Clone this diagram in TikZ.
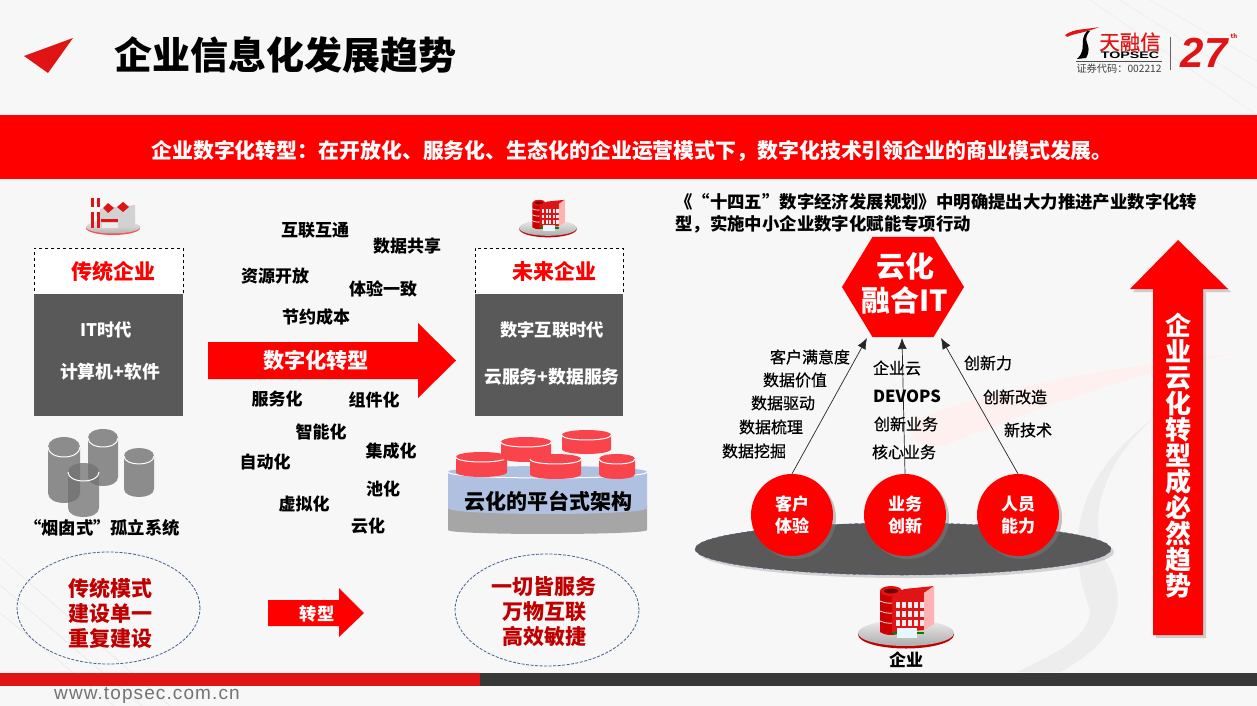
\documentclass[tikz,border=0pt]{standalone}
\usepackage{fontspec}
\setmainfont{Noto Sans CJK SC}
\newfontfamily\medfont{Noto Sans CJK SC}[FakeBold=0.6]
\newfontfamily\logofont{Liberation Sans}
\newfontfamily\webfont{Liberation Sans}[LetterSpace=5.8]
\usepackage{tikz}
\usetikzlibrary{positioning,shapes.geometric,shadows,arrows.meta}
\definecolor{topred}{HTML}{FF0000}
\definecolor{darkred}{HTML}{C00000}
\definecolor{logored}{HTML}{E01414}
\definecolor{boxgray}{HTML}{595959}
\definecolor{dashblue}{HTML}{44618F}
\definecolor{drumgray}{HTML}{8C8C8C}
\definecolor{drumred}{HTML}{F9444C}
\definecolor{drumblue}{HTML}{AFC0E0}
\newcommand{\fsz}[1]{\fontsize{#1}{#1}\selectfont}
\newcommand{\drum}[6]{% x, top y, width, bottom y, lid depth, fill
  \path[#6] (#1,#2) -- (#1,#4) .. controls (#1,{#4+#5*1.33}) and ({#1+#3},{#4+#5*1.33}) .. ({#1+#3},#4)
    -- ({#1+#3},#2) .. controls ({#1+#3},{#2-#5*1.33}) and (#1,{#2-#5*1.33}) .. cycle;
  \draw[white,line width=1pt] (#1,#2) .. controls (#1,{#2+#5*1.33}) and ({#1+#3},{#2+#5*1.33}) .. ({#1+#3},#2);
}
\newcommand{\officeicon}[3]{% x, y, scale
  \begin{scope}[shift={(#1,#2)},scale=#3]
    \fill[red!75!black] (0,1.5) ellipse (48 and 14);
    \shade[top color=gray!15,bottom color=gray!65] (0,0) ellipse (48 and 13);
    \fill[red!80!black] (-26,-42) -- (-26,-1) .. controls (-20,3) and (-10,3) .. (-4,-1) -- (-4,-42) -- cycle;
    \fill[logored] (-15,-42) ellipse (11 and 5);
    \fill[red!45!black] (-15,-42) ellipse (7 and 2.5);
    \foreach \row in {-32,-22,-12}
      \draw[white!80!gray,line width=.8pt] (-26,\row) .. controls (-20,{\row+3}) and (-12,{\row+3}) .. (-6,\row);
    \fill[logored] (-14,-36) -- (-2,-44) -- (28,-47) -- (18,-40) -- (18,-3) -- (-14,0) -- cycle;
    \fill[white!70!red] (18,-40) -- (28,-47) -- (28,-9) -- (18,-3) -- cycle;
    \foreach \row in {-31,-22,-13}
      \foreach \col in {-10,-4,2,8,14}
        \fill[white!85!gray] (\col,\row) rectangle ++(3.6,5.5);
    \fill[green!50!black] (-14,-1) rectangle (18,1);
    \fill[white!90!cyan] (-9,-5) rectangle (11,5);
  \end{scope}
}
\begin{document}
\begin{tikzpicture}[x=1pt,y=-1pt,
  tag/.style={font=\bfseries\fsz{17}},
  thin tag/.style={font=\medfont\fsz{16}},
  title/.style={font=\bfseries\fsz{21},text=topred},
  dark box/.style={fill=boxgray,anchor=north west,inner sep=0pt},
  white tag/.style={font=\bfseries\fsz{17.3},text=white},
  wide tag/.style={font=\bfseries\fsz{17.8},text=white},
  motto/.style={font=\bfseries\fsz{21},text=darkred,align=center,text depth=0pt},
  ring/.style={draw=dashblue,dash pattern=on 3pt off 1.5pt,line width=.8pt,ellipse,inner sep=0pt},
  ball/.style={circle,fill=topred,minimum size=82,inner sep=0pt,align=center,
    font=\bfseries\fsz{17},text=white,drop shadow={opacity=.45,shadow xshift=3pt,shadow yshift=-3pt}},
  up arrow/.style={-{Latex[length=11pt,width=9pt]},line width=.7pt,black!85}]
\useasboundingbox (0,0) rectangle (1257,706);
% background
\fill[black!3] (0,0) rectangle (1257,706);
\foreach \d in {0,28,56}
  \draw[black!7,line width=1pt] (0,{557+\d}) -- ({170-\d},706);
\foreach \d in {0,30,60}
  \draw[black!6,line width=1pt] ({1090+\d},0) -- ({1257},{115-\d*.9});
\fill[red!6] (1238,353) .. controls (1130,365) and (1000,385) .. (915,420)
  .. controls (905,435) and (915,450) .. (945,445) .. controls (1010,420) and (1120,375) .. (1238,353);
\fill[black!7] (1155,417) .. controls (1085,470) and (1060,530) .. (1090,610)
  .. controls (1090,640) and (1050,655) .. (1018,672) -- (1060,672)
  .. controls (1120,640) and (1130,600) .. (1105,560) .. controls (1085,510) and (1110,455) .. (1155,417);
% header
\fill[logored] (24,56) -- (73,38) -- (48,73) -- cycle;
\node[font=\bfseries\fsz{38}] (pagetitle) at (285,55) {企业信息化发展趋势};
\fill[topred] (0,115) rectangle (1257,179);
\node[font=\bfseries\fsz{20.9},text=white] (banner) at (632,151) {企业数字化转型：在开放化、服务化、生态化的企业运营模式下，数字化技术引领企业的商业模式发展。};
% logo
\fill[logored] (1065,35) .. controls (1075,28) and (1085,30) .. (1099,27) .. controls (1085,33) and (1075,33) .. (1067,37) -- cycle;
\fill[black] (1090,31) .. controls (1080,42) and (1094,44) .. (1086,58) -- (1077,59) .. controls (1088,48) and (1078,42) .. (1087,31) -- cycle;
\node[font=\medfont\fsz{20.5},text=logored,inner sep=0pt] (logocn) at (1130,42) {天融信};
\node[font=\logofont\bfseries\fsz{9.5},text=black,inner sep=0pt,xscale=1.5,transform shape] (logoen) at (1130,55) {TOPSEC};
\draw[black!70,line width=.6pt] (1076,61) -- (1162,61);
\node[font=\fsz{10.2},text=black!75,inner sep=0pt] (logocode) at (1119,69) {证券代码：002212};
\draw[black!60,line width=.8pt] (1170,37) -- (1170,70);
\node[font=\logofont\bfseries\itshape\fsz{42},text=logored,inner sep=0pt] (logoyear) at (1204,53) {27};
\node[font=\bfseries\fsz{6},text=logored,inner sep=0pt] (logonote) at (1234,36) {th};
% left column
\fill[red!70] (113,228) ellipse (27 and 7);
\shade[top color=gray!15,bottom color=gray!60] (113,227) ellipse (27 and 6.5);
\fill[gray!35] (98,209) -- (135,205) -- (135,226) -- (98,229) -- cycle;
\fill[logored] (103,208) -- (108,203) -- (114,208) -- (108,213) -- cycle;
\fill[logored] (117,207) -- (123,202) -- (129,207) -- (123,212) -- cycle;
\fill[logored] (101,219) rectangle (118,222);
\fill[white!85!gray] (102,223) rectangle (118,228);
\fill[logored] (91,198) rectangle (93.5,228);
\fill[white] (91,207) rectangle (93.5,212);
\fill[logored] (97,198) rectangle (100,228);
\fill[white] (97,207) rectangle (100,212);
\node[draw,dashed,line width=.6pt,fill=white,minimum width=149,minimum height=46,inner sep=0pt,anchor=north west] (oldhead) at (34,248) {};
\node[dark box,minimum width=149,minimum height=122] (oldbox) at (34,294) {};
\node[title] (oldtitle) at (113,271) {传统企业};
\node[white tag] (oldera) at (106,330) {IT时代};
\node[wide tag] (oldit) at (110,372) {计算机+软件};
\drum{48}{447}{32}{493}{10}{fill=drumgray}
\drum{88}{438}{30}{477}{9}{fill=drumgray}
\drum{124}{456}{30}{489}{8}{fill=drumgray}
\drum{68}{472}{31}{508}{9}{fill=drumgray!80!black,fill opacity=.75}
\node[font=\bfseries\fsz{17.3}] (silo) at (102,528) {“烟囱式”孤立系统};
\node[ring,minimum width=183,minimum height=112] (oldring) at (108.5,608) {};
\node[motto] (oldmotto) at (110,612) {传统模式\\[4pt]建设单一\\[4pt]重复建设};
% middle words
\node[tag] (w1) at (315,230) {互联互通};
\node[tag] (w2) at (407,246) {数据共享};
\node[tag] (w3) at (275,276) {资源开放};
\node[tag] (w4) at (383,289) {体验一致};
\node[tag] (w5) at (316,317) {节约成本};
\fill[topred] (208,342) -- (418,342) -- (418,323) -- (456,360.5) -- (418,398) -- (418,379) -- (208,379) -- cycle;
\node[font=\bfseries\fsz{21.2},text=white] (bigshift) at (316,360) {数字化转型};
\node[tag] (w6) at (277,399) {服务化};
\node[tag] (w7) at (374,400) {组件化};
\node[tag] (w8) at (321,432) {智能化};
\node[tag] (w9) at (391,451) {集成化};
\node[tag] (w10) at (265,462) {自动化};
\node[tag] (w11) at (383,489) {池化};
\node[tag] (w12) at (304,504) {虚拟化};
\node[tag] (w13) at (368,526) {云化};
\fill[topred] (268,600) -- (339,600) -- (339,588) -- (364,613) -- (339,637) -- (339,626) -- (268,626) -- cycle;
\node[white tag] (smallshift) at (317,614) {转型};
% future column
\officeicon{548}{228}{.6}
\node[draw,dashed,line width=.6pt,fill=white,minimum width=148,minimum height=46,inner sep=0pt,anchor=north west] (newhead) at (475,248) {};
\node[dark box,minimum width=148,minimum height=122] (newbox) at (475,294) {};
\node[title] (newtitle) at (554,271) {未来企业};
\node[white tag] (newera) at (552,330) {数字互联时代};
\node[wide tag] (newit) at (552,377) {云服务+数据服务};
\drum{448}{505}{199}{530}{4}{fill=black!35}
\drum{448}{472}{199}{508}{6}{fill=drumblue}
\drum{456}{457}{51}{472}{5}{fill=drumred}
\drum{501}{442}{50}{457}{5}{fill=drumred}
\drum{562}{435}{49}{449}{5}{fill=drumred}
\drum{530}{459}{51}{474}{5}{fill=drumred}
\drum{599}{459}{36}{474}{5}{fill=drumred}
\node[font=\bfseries\fsz{21}] (platform) at (548,501) {云化的平台式架构};
\node[ring,minimum width=184,minimum height=112] (newring) at (547,610) {};
\node[motto] (newmotto) at (544,611) {一切皆服务\\[4pt]万物互联\\[4pt]高效敏捷};
% right column
\node[font=\bfseries\fsz{17.4},anchor=west,inner sep=0pt] (plan1) at (675,202) {《“十四五”数字经济发展规划》中明确提出大力推进产业数字化转};
\node[font=\bfseries\fsz{17.4},anchor=west,inner sep=0pt] (plan2) at (675,224) {型，实施中小企业数字化赋能专项行动};
\node[draw=dashblue,dashed,line width=.5pt,fill=boxgray,ellipse,minimum width=416,minimum height=52,inner sep=0pt,
  drop shadow={opacity=.3,shadow xshift=3pt,shadow yshift=-3pt}] (base) at (903,549) {};
\node[regular polygon,regular polygon sides=6,fill=topred,minimum size=122,inner sep=0pt,yscale=.947,transform shape] (hex) at (903,287) {};
\node[font=\bfseries\fsz{29},text=white,align=center] (hextext) at (905,283) {云化\\[5pt]融合IT};
\coordinate (hexleft) at (867,338);
\coordinate (hexmid) at (902,338);
\coordinate (hexright) at (941,338);
\node[ball] (c1) at (792,515) {客户\\[5pt]体验};
\node[ball] (c2) at (905,515) {业务\\[5pt]创新};
\node[ball] (c3) at (1018,515) {人员\\[5pt]能力};
\draw[up arrow] (c1.north) -- (hexleft);
\draw[up arrow] (c2.north) -- (hexmid);
\draw[up arrow] (c3.north) -- (hexright);
\node[thin tag] (a1) at (810,357) {客户满意度};
\node[thin tag] (a2) at (795,380) {数据价值};
\node[thin tag] (a3) at (783,403) {数据驱动};
\node[thin tag] (a4) at (771,427) {数据梳理};
\node[thin tag] (a5) at (754,451) {数据挖掘};
\node[thin tag] (b1) at (897,368) {企业云};
\node[font=\bfseries\fsz{16.6}] (b2) at (907,396) {DEVOPS};
\node[thin tag] (b3) at (906,424) {创新业务};
\node[thin tag] (b4) at (904,452) {核心业务};
\node[thin tag] (d1) at (988,363) {创新力};
\node[thin tag] (d2) at (1015,397) {创新改造};
\node[thin tag] (d3) at (1028,430) {新技术};
\officeicon{906}{633}{1}
\node[font=\bfseries\fsz{17}] (firm) at (906,660) {企业};
\fill[topred,drop shadow={opacity=.35,shadow xshift=3pt,shadow yshift=-3pt}] (1178,240) -- (1228,289) -- (1203,289) -- (1203,635) -- (1153,635) -- (1153,289) -- (1130,289) -- cycle;
\node[font=\bfseries\fsz{26},text=white,align=center] (trend) at (1178,456) {企\\[0pt]业\\[0pt]云\\[0pt]化\\[0pt]转\\[0pt]型\\[0pt]成\\[0pt]必\\[0pt]然\\[0pt]趋\\[0pt]势};
% footer
\fill[logored] (0,673) rectangle (480,686);
\fill[black!78] (480,673) rectangle (1257,686);
\node[font=\webfont\fsz{19},text=black!55,anchor=west,inner sep=0pt] (web) at (54,695) {www.topsec.com.cn};
\end{tikzpicture}
\end{document}
